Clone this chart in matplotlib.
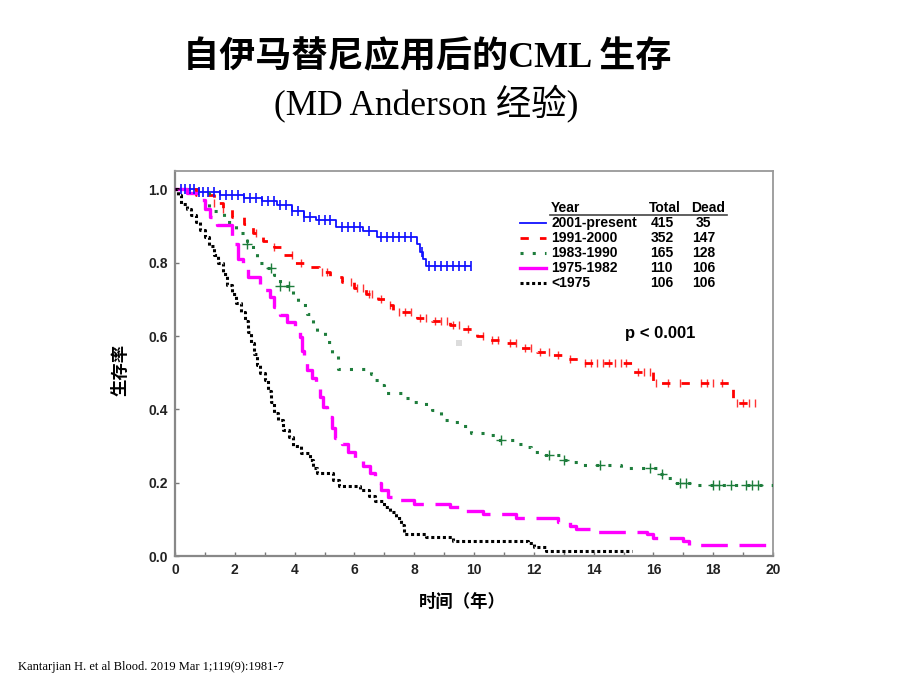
import numpy as np
import matplotlib
matplotlib.use("Agg")
import matplotlib.pyplot as plt
from matplotlib.lines import Line2D

# ---------------- data ----------------
title_text = "自伊马替尼应用后的CML 生存"
subtitle_text = "(MD Anderson 经验)"
xlabel_text = "时间（年）"
ylabel_text = "生存率"
citation_text = "Kantarjian H. et al Blood. 2019 Mar 1;119(9):1981-7"
pvalue_text = "p < 0.001"

series_names = ["2001-present", "1991-2000", "1983-1990", "1975-1982", "<1975"]
series_total = [415, 352, 165, 110, 106]
series_dead = [35, 147, 128, 106, 106]

blue_t = [0, 0.8, 1.5, 2.3, 2.9, 3.4, 3.9, 4.3, 4.7, 5.4, 6.3, 6.75, 8.1, 8.2, 8.3, 8.4]
blue_s = [1.0, 0.993, 0.985, 0.976, 0.967, 0.957, 0.94, 0.925, 0.916, 0.898, 0.885, 0.871, 0.85, 0.83, 0.81, 0.79]
blue_end = 9.9
blue_cens = [0.2, 0.35, 0.5, 0.65, 0.8, 0.95, 1.1, 1.3, 1.5, 1.7, 1.9, 2.1, 2.3, 2.5, 2.7, 2.9,
             3.1, 3.3, 3.5, 3.7, 3.9, 4.1, 4.3, 4.5, 4.8, 5.0, 5.2, 5.6, 5.8, 6.0, 6.2, 6.5,
             6.9, 7.1, 7.3, 7.5, 7.7, 7.9, 8.25, 8.5, 8.7, 8.9, 9.1, 9.3, 9.5, 9.7, 9.9]

red_t = [0, 0.7, 1.3, 1.6, 1.9, 2.3, 2.6, 2.95, 3.3, 3.6, 4.0, 4.4, 4.8, 5.2, 5.6, 6.0, 6.4, 6.8,
         7.05, 7.3, 8.1, 8.6, 9.2, 9.6, 10.1, 10.5, 11.0, 11.5, 12.1, 12.6, 13.0, 13.5, 15.3, 16.0, 18.65]
red_s = [1.0, 0.985, 0.963, 0.945, 0.925, 0.905, 0.88, 0.86, 0.842, 0.82, 0.80, 0.789, 0.775, 0.76,
         0.748, 0.73, 0.715, 0.70, 0.685, 0.665, 0.65, 0.64, 0.63, 0.62, 0.60, 0.59, 0.58, 0.567,
         0.556, 0.548, 0.538, 0.527, 0.502, 0.473, 0.418]
red_end = 19.5
red_cens = [1.3, 1.6, 2.7, 3.3, 3.9, 4.2, 4.9, 5.1, 5.9, 6.1, 6.3, 6.5, 6.6, 6.9, 7.2, 7.5, 7.7, 7.9,
            8.2, 8.4, 8.7, 8.9, 9.1, 9.3, 9.5, 9.8, 10.3, 10.6, 10.8, 11.2, 11.4, 11.7, 11.9, 12.2,
            12.5, 12.8, 13.2, 13.7, 13.9, 14.1, 14.3, 14.5, 14.7, 14.9, 15.1, 15.5, 15.7, 15.9,
            16.1, 16.5, 16.9, 17.6, 17.8, 18.0, 18.3, 18.8, 19.0, 19.2, 19.4]

green_t = [0, 0.6, 1.15, 1.65, 2.05, 2.4, 2.6, 2.75, 3.0, 3.3, 3.5, 3.95, 4.1, 4.4, 4.6, 4.75, 5.0,
           5.25, 5.45, 6.55, 6.7, 6.9, 7.0, 7.6, 8.0, 8.4, 8.6, 8.9, 9.3, 9.6, 9.9, 10.5, 10.8, 11.4,
           11.7, 11.9, 12.3, 13.0, 13.3, 13.6, 14.9, 16.2, 16.4, 16.7, 17.4]
green_s = [1.0, 0.99, 0.94, 0.912, 0.88, 0.85, 0.826, 0.80, 0.785, 0.765, 0.735, 0.707, 0.685, 0.66,
           0.635, 0.612, 0.585, 0.545, 0.51, 0.497, 0.48, 0.466, 0.445, 0.43, 0.42, 0.41, 0.398,
           0.37, 0.366, 0.355, 0.336, 0.33, 0.316, 0.306, 0.297, 0.284, 0.275, 0.262, 0.257, 0.248,
           0.24, 0.225, 0.213, 0.2, 0.194]
green_end = 20.0
green_cens = [2.4, 3.2, 3.5, 3.8, 10.9, 12.5, 13.0, 14.2, 15.9, 16.3, 16.9, 17.1, 18.0, 18.2, 18.6,
              19.1, 19.3, 19.5]

magenta_t = [0, 0.4, 0.8, 1.0, 1.17, 1.4, 1.9, 1.94, 2.1, 2.28, 2.44, 2.84, 3.17, 3.3, 3.5, 3.73,
             4.0, 4.18, 4.25, 4.3, 4.4, 4.57, 4.7, 4.85, 4.95, 5.1, 5.24, 5.35, 5.6, 5.79, 6.02, 6.3,
             6.52, 6.69, 6.9, 7.12, 7.46, 8.0, 9.2, 9.63, 10.3, 11.4, 12.8, 13.2, 13.4, 14.0, 15.8,
             16.0, 17.0, 17.2]
magenta_s = [1.0, 0.99, 0.97, 0.945, 0.925, 0.903, 0.871, 0.85, 0.81, 0.785, 0.762, 0.725, 0.707,
             0.68, 0.657, 0.639, 0.62, 0.598, 0.56, 0.534, 0.507, 0.485, 0.46, 0.434, 0.407, 0.38,
             0.349, 0.322, 0.305, 0.284, 0.262, 0.245, 0.226, 0.199, 0.18, 0.162, 0.153, 0.142,
             0.135, 0.124, 0.115, 0.104, 0.094, 0.083, 0.075, 0.066, 0.06, 0.05, 0.04, 0.03]
magenta_end = 20.0

black_t = [0, 0.1, 0.2, 0.4, 0.55, 0.7, 0.85, 1.0, 1.15, 1.3, 1.45, 1.6, 1.75, 1.9, 2.05, 2.2, 2.35,
           2.45, 2.55, 2.65, 2.75, 2.85, 3.0, 3.1, 3.2, 3.3, 3.45, 3.6, 3.8, 3.95, 4.2, 4.5, 4.6,
           4.75, 5.3, 5.5, 6.2, 6.5, 6.7, 7.0, 7.2, 7.4, 7.55, 7.65, 8.4, 9.3, 11.8, 12.0, 12.4]
black_s = [1.0, 0.985, 0.96, 0.945, 0.93, 0.91, 0.89, 0.87, 0.845, 0.82, 0.80, 0.77, 0.74, 0.715,
           0.69, 0.665, 0.64, 0.61, 0.58, 0.55, 0.52, 0.50, 0.48, 0.45, 0.42, 0.39, 0.37, 0.345,
           0.325, 0.30, 0.28, 0.262, 0.24, 0.226, 0.207, 0.19, 0.18, 0.165, 0.15, 0.135, 0.12,
           0.105, 0.085, 0.06, 0.052, 0.042, 0.035, 0.025, 0.013]
black_end = 15.3

artifact_x = [9.5]
artifact_y = [0.58]

x_ticks = [0, 2, 4, 6, 8, 10, 12, 14, 16, 18, 20]
y_ticks = [0.0, 0.2, 0.4, 0.6, 0.8, 1.0]

# ---------------- styles ----------------
c_blue = "#1010ff"
c_red = "#ff0000"
c_green = "#1e7d3c"
c_mag = "#ff00ff"
c_black = "#000000"

styles = [
    dict(color=c_blue, lw=1.3, ls="-"),
    dict(color=c_red, lw=2.0, ls=(0, (3.0, 4.0))),
    dict(color=c_green, lw=2.2, ls=(0, (1.0, 3.0))),
    dict(color=c_mag, lw=2.4, ls=(0, (8.0, 3.5))),
    dict(color=c_black, lw=2.2, ls=(0, (1.0, 0.9))),
]

fig = plt.figure(figsize=(9.2, 6.9), dpi=100)
fig.patch.set_facecolor("white")
ax = fig.add_axes([175 / 920, (690 - 556) / 690, 598 / 920, 385 / 690])


def step_curve(t, s, end):
    tt = list(t) + [end]
    ss = list(s) + [s[-1]]
    return np.array(tt), np.array(ss)


def value_at(t, s, x):
    t = np.asarray(t)
    s = np.asarray(s)
    idx = np.searchsorted(t, np.asarray(x), side="right") - 1
    return s[np.clip(idx, 0, len(s) - 1)]


curves = [
    (blue_t, blue_s, blue_end),
    (red_t, red_s, red_end),
    (green_t, green_s, green_end),
    (magenta_t, magenta_s, magenta_end),
    (black_t, black_s, black_end),
]

for (t, s, end), st in zip(curves, styles):
    tt, ss = step_curve(t, s, end)
    ax.step(tt, ss, where="post", color=st["color"], lw=st["lw"], linestyle=st["ls"],
            solid_capstyle="butt", dash_capstyle="butt", zorder=3)

# censor marks
ax.plot(blue_cens, value_at(blue_t, blue_s, blue_cens), ls="none", marker="|", ms=7,
        mew=1.2, color=c_blue, zorder=4)
ax.plot(red_cens, value_at(red_t, red_s, red_cens), ls="none", marker="|", ms=6,
        mew=1.0, color=c_red, alpha=0.8, zorder=4)
ax.plot(green_cens, value_at(green_t, green_s, green_cens), ls="none", marker="+", ms=7,
        mew=1.0, color=c_green, zorder=4)

# small grey artifact square
ax.plot(artifact_x, artifact_y, ls="none", marker="s", ms=5, color="#dcdcdc", mew=0, zorder=2)

ax.set_xlim(0, 20)
ax.set_ylim(0, 1.05)
ax.set_xticks(x_ticks)
ax.set_xticks(np.arange(1, 20, 2), minor=True)
ax.set_yticks(y_ticks)
ax.set_xticklabels([str(v) for v in x_ticks])
ax.set_yticklabels([f"{v:.1f}" for v in y_ticks])
ax.tick_params(axis="both", which="both", direction="in", length=3, width=1, color="#777777",
               labelsize=10, labelcolor="#222222", pad=5)
for lab in ax.get_xticklabels() + ax.get_yticklabels():
    lab.set_fontweight("bold")
    lab.set_family(["Liberation Sans", "DejaVu Sans"])
for sp in ["left", "bottom"]:
    ax.spines[sp].set_color("#888888")
    ax.spines[sp].set_linewidth(1.6)
for sp in ["top", "right"]:
    ax.spines[sp].set_color("#999999")
    ax.spines[sp].set_linewidth(1.3)

# legend table
sans = ["Liberation Sans", "DejaVu Sans"]
leg_fs = 10
col1, col2, col3 = 0.629, 0.793, 0.863
header_y = 0.904
row_y = [0.865, 0.826, 0.787, 0.748, 0.709]
ax.text(col1, header_y, "Year", transform=ax.transAxes, fontsize=leg_fs, fontweight="bold",
        family=sans, va="center", ha="left")
ax.text(col2, header_y, "Total", transform=ax.transAxes, fontsize=leg_fs, fontweight="bold",
        family=sans, va="center", ha="left")
ax.text(col3, header_y, "Dead", transform=ax.transAxes, fontsize=leg_fs, fontweight="bold",
        family=sans, va="center", ha="left")
ax.add_line(Line2D([0.627, 0.923], [0.885, 0.885], transform=ax.transAxes, color="#444444", lw=1.2))
for i, (name, tot, dead) in enumerate(zip(series_names, series_total, series_dead)):
    st = styles[i]
    ls = st["ls"]
    if i == 3:
        ls = "-"
    ax.add_line(Line2D([0.577, 0.620], [row_y[i], row_y[i]], transform=ax.transAxes,
                       color=st["color"], lw=st["lw"], linestyle=ls, dash_capstyle="butt"))
    ax.text(col1, row_y[i], name, transform=ax.transAxes, fontsize=leg_fs, fontweight="bold",
            family=sans, va="center", ha="left")
    ax.text(col2 + 0.002, row_y[i], str(tot), transform=ax.transAxes, fontsize=leg_fs,
            fontweight="bold", family=sans, va="center", ha="left")
    ax.text(col3 + (0.008 if dead < 100 else 0.002), row_y[i], str(dead), transform=ax.transAxes,
            fontsize=leg_fs, fontweight="bold", family=sans, va="center", ha="left")

ax.text(0.811, 0.577, pvalue_text, transform=ax.transAxes, fontsize=12, fontweight="bold",
        family=sans, va="center", ha="center")

# axis labels
cjk = ["Noto Sans CJK SC", "DejaVu Sans"]
fig.text(120 / 920, 1 - 370 / 690, ylabel_text, rotation=90, fontsize=12.5, fontweight="bold",
         family=cjk, ha="center", va="center")
fig.text(462 / 920, 1 - 602 / 690, xlabel_text, fontsize=12.5, fontweight="bold",
         family=cjk, ha="center", va="center")

# titles
fig.text(427 / 920, 1 - 58 / 690, title_text, fontsize=26, fontweight="bold",
         family=["Liberation Serif", "Noto Sans CJK SC"], ha="center", va="center")
fig.text(426 / 920, 1 - 103 / 690, subtitle_text, fontsize=25.5,
         family=["Liberation Serif", "Noto Sans CJK SC"], ha="center", va="center")

fig.text(18 / 920, 1 - 667 / 690, citation_text, fontsize=9,
         family=["Liberation Serif", "DejaVu Serif"], ha="left", va="center")

fig.savefig("out.png", dpi=100, facecolor="white")
